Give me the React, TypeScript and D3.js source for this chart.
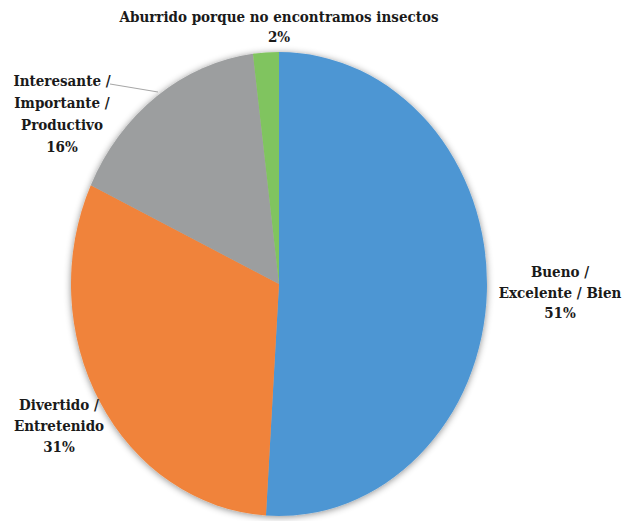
import { useEffect, useRef } from 'react';
import * as d3 from 'd3';

const categories = ['Bueno / Excelente / Bien', 'Divertido / Entretenido', 'Interesante / Importante / Productivo', 'Aburrido porque no encontramos insectos'];
const values = [51, 31, 16, 2];
const colors = ['#4e96d3', '#f0833a', '#9c9e9f', '#80c45e'];

// label lines as drawn on the chart
const labelLines = [
  ['Bueno /', 'Excelente / Bien', '51%'],
  ['Divertido /', 'Entretenido', '31%'],
  ['Interesante /', 'Importante /', 'Productivo', '16%'],
  ['Aburrido porque no encontramos insectos', '2%'],
];

type Slice = { category: string; value: number; color: string; lines: string[] };

const slices: Slice[] = categories.map((category, index) => ({
  category,
  value: values[index]!,
  color: colors[index]!,
  lines: labelLines[index]!,
}));

export default function App() {
  const svgRef = useRef<SVGSVGElement | null>(null);

  useEffect(() => {
    const svgElement = svgRef.current;
    if (!svgElement) {
      return;
    }
    const svg = d3.select(svgElement);
    svg.selectAll('*').remove();

    const width = 634;
    const height = 521;
    const cx = 279;
    const cy = 284;
    // the original pie is stretched vertically
    const rx = 208;
    const ry = 232;

    const defs = svg.append('defs');
    const filter = defs.append('filter').attr('id', 'pie-shadow').attr('x', '-10%').attr('y', '-10%').attr('width', '120%').attr('height', '120%');
    filter.append('feDropShadow').attr('dx', 0).attr('dy', 1).attr('stdDeviation', 3.5).attr('flood-color', '#000').attr('flood-opacity', 0.45);

    const pie = d3
      .pie<Slice>()
      .value((d) => d.value)
      .sort(null);
    const arc = d3.arc<d3.PieArcDatum<Slice>>().innerRadius(0).outerRadius(rx);
    const arcs = pie(slices);

    const pieLayer = svg
      .append('g')
      .attr('filter', 'url(#pie-shadow)')
      .append('g')
      .attr('transform', `translate(${cx},${cy}) scale(1,${ry / rx})`);
    pieLayer
      .selectAll('path')
      .data(arcs)
      .join('path')
      .attr('d', arc)
      .attr('fill', (d) => d.data.color);

    // label anchor points: [x, first baseline, line height]
    const labelPlacements: [number, number, number][] = [
      [560, 277, 20.5],
      [59, 410, 21],
      [62, 86, 22],
      [279, 22, 20],
    ];

    const labels = svg
      .append('g')
      .attr('font-family', '"DejaVu Serif", serif')
      .attr('font-stretch', 'condensed')
      .attr('font-size', 15)
      .attr('font-weight', 'bold')
      .attr('fill', '#1a1a1a')
      .attr('text-anchor', 'middle');

    slices.forEach((slice, index) => {
      const [x, y, lh] = labelPlacements[index]!;
      const text = labels.append('text').attr('x', x).attr('y', y);
      slice.lines.forEach((line, i) => {
        text
          .append('tspan')
          .attr('x', x)
          .attr('dy', i === 0 ? 0 : lh)
          .text(line);
      });
    });

    // leader line for the gray slice
    svg.append('line').attr('x1', 110).attr('y1', 84).attr('x2', 158).attr('y2', 92).attr('stroke', '#a6a6a6').attr('stroke-width', 1);

    svg.attr('viewBox', `0 0 ${width} ${height}`).attr('width', width).attr('height', height);
  }, []);

  return <svg ref={svgRef} style={{ position: 'absolute', left: 0, top: 0, background: '#fff' }} />;
}
